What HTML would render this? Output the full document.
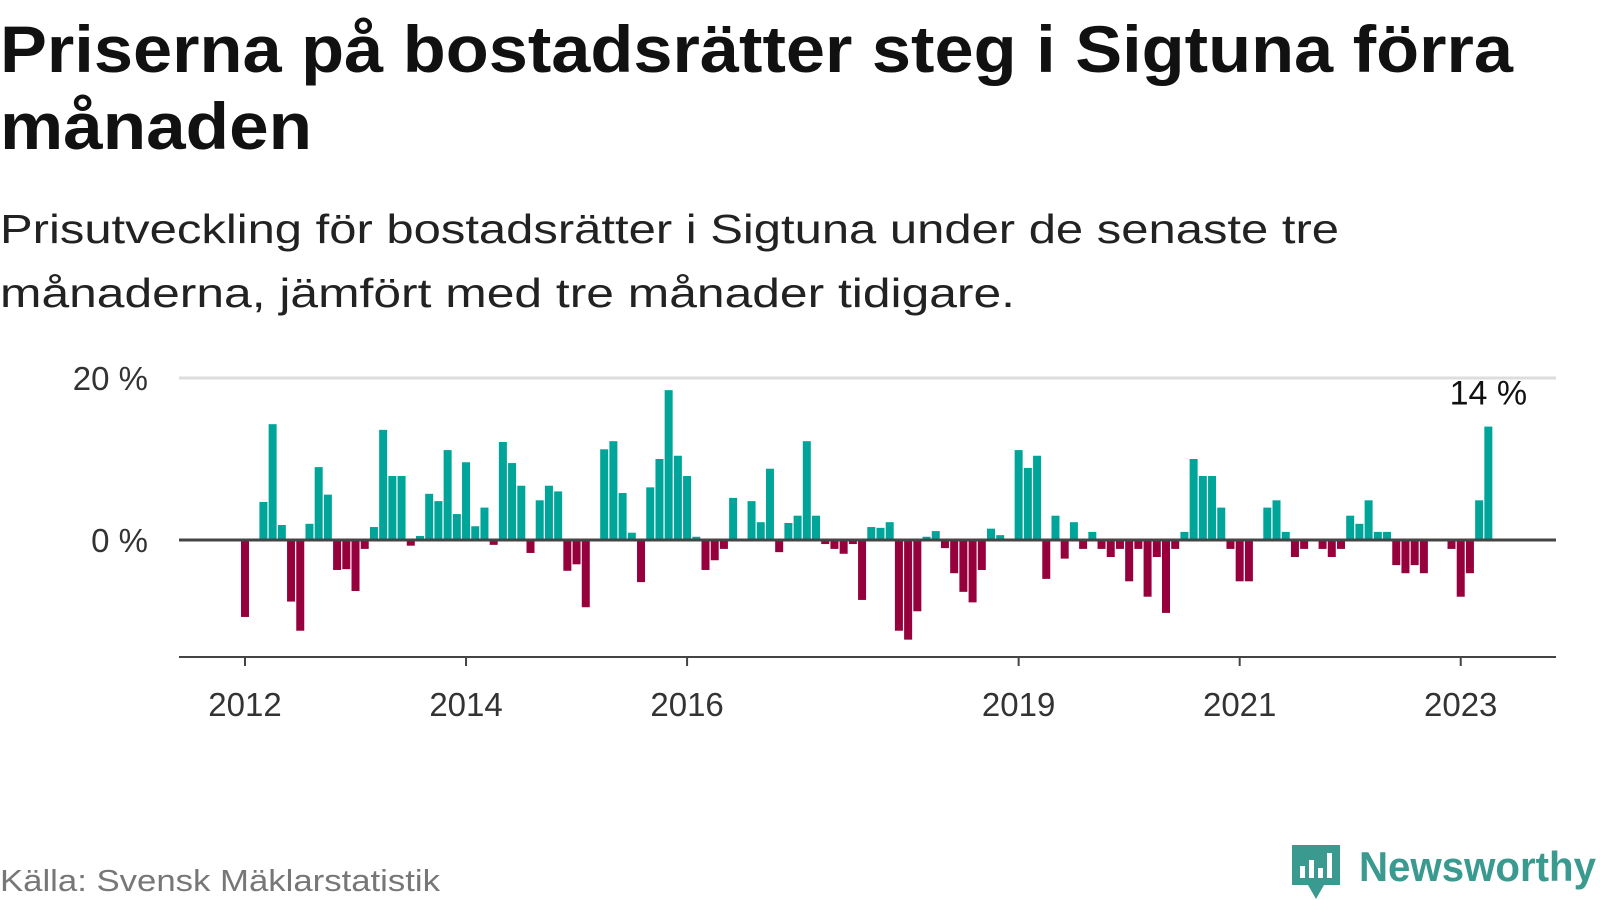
<!DOCTYPE html>
<html><head><meta charset="utf-8"><style>
html,body{margin:0;padding:0;background:#fff;}
svg{display:block;font-family:"Liberation Sans",sans-serif;}
</style></head><body>
<svg id="chart" width="1600" height="900" viewBox="0 0 1600 900">
<text x="0" y="72" font-size="66" font-weight="bold" fill="#111" textLength="1513" lengthAdjust="spacingAndGlyphs">Priserna på bostadsrätter steg i Sigtuna förra</text>
<text x="0" y="149" font-size="66" font-weight="bold" fill="#111" textLength="312" lengthAdjust="spacingAndGlyphs">månaden</text>
<text x="0" y="243" font-size="41" fill="#222" textLength="1339" lengthAdjust="spacingAndGlyphs">Prisutveckling för bostadsrätter i Sigtuna under de senaste tre</text>
<text x="0" y="307" font-size="41" fill="#222" textLength="1015" lengthAdjust="spacingAndGlyphs">månaderna, jämfört med tre månader tidigare.</text>
<g id="plot"></g>
<text x="0" y="891" font-size="31" fill="#777" textLength="440" lengthAdjust="spacingAndGlyphs">Källa: Svensk Mäklarstatistik</text>
<g>
<path d="M1292 845 h48 v40 h-16 l-8 14 l-8 -14 h-16 z" fill="#3a9a8f"/>
<rect x="1300" y="866" width="5" height="12" fill="#fff"/>
<rect x="1309" y="860" width="5" height="18" fill="#fff"/>
<rect x="1318" y="868" width="5" height="10" fill="#fff"/>
<rect x="1327" y="853" width="5" height="25" fill="#fff"/>
<text x="1359" y="881" font-size="42" font-weight="bold" fill="#3a9a8f" textLength="237" lengthAdjust="spacingAndGlyphs">Newsworthy</text>
</g>
</svg>
<script>
const values = [-9.5,0,4.7,14.3,1.85,-7.6,-11.2,2.0,9.0,5.6,-3.7,-3.6,-6.3,-1.1,1.6,13.6,7.9,7.9,-0.7,0.5,5.7,4.8,11.1,3.2,9.6,1.7,4.0,-0.6,12.1,9.5,6.7,-1.6,4.9,6.7,6.0,-3.8,-3.0,-8.3,0,11.2,12.2,5.8,0.9,-5.2,6.5,10.0,18.5,10.4,7.9,0.4,-3.7,-2.5,-1.1,5.2,0,4.8,2.2,8.8,-1.5,2.1,3.0,12.2,3.0,-0.5,-1.1,-1.7,-0.5,-7.4,1.6,1.5,2.2,-11.2,-12.3,-8.8,0.4,1.1,-1.0,-4.1,-6.4,-7.7,-3.7,1.4,0.6,0,11.1,8.9,10.4,-4.8,3.0,-2.3,2.2,-1.1,1.0,-1.1,-2.1,-1.1,-5.1,-1.1,-7.0,-2.1,-9.0,-1.1,1.0,10.0,7.9,7.9,4.0,-1.1,-5.1,-5.1,0,4.0,4.9,1.0,-2.1,-1.1,0,-1.1,-2.1,-1.1,3.0,2.0,4.9,1.0,1.0,-3.1,-4.1,-3.1,-4.1,0,0,-1.1,-7.0,-4.1,4.9,14.0];
const yTicks = [0, 20];
const yTickLabels = ["0 %", "20 %"];
const xTickIndex = [0, 24, 48, 84, 108, 132];
const xTickLabels = ["2012", "2014", "2016", "2019", "2021", "2023"];
const lastLabel = "14 %";

const NS = "http://www.w3.org/2000/svg";
const g = document.getElementById('plot');
const x = i => 245 + i * 9.21;
const y = v => 540 - v * 8.1;
function mk(tag, attrs){const e=document.createElementNS(NS,tag);for(const k in attrs)e.setAttribute(k,attrs[k]);g.appendChild(e);return e;}

yTicks.forEach((t,k)=>{
  if(t!==0){
    const l=mk('line',{x1:179,x2:1556,y1:y(t),y2:y(t),stroke:'#ddd','stroke-width':3});
    
    
  }
  const tx=mk('text',{x:148,y:y(t)+12,'font-size':33,'text-anchor':'end',fill:'#333'});
  tx.textContent=yTickLabels[k];
  
  
});

values.forEach((v,i)=>{
  if(v===0)return;
  const top=Math.min(y(v),y(0)), h=Math.abs(y(v)-y(0));
  const r=mk('rect',{x:x(i)-4,y:top,width:8,height:h,fill:v>0?'#00a59a':'#96003c'});
  
  
});

const z=mk('line',{x1:179,x2:1556,y1:y(0),y2:y(0),stroke:'#444','stroke-width':3});



const ax=mk('line',{x1:179,x2:1556,y1:657,y2:657,stroke:'#444','stroke-width':2});



xTickIndex.forEach((idx,k)=>{
  const t=mk('line',{x1:x(idx),x2:x(idx),y1:657,y2:666,stroke:'#444','stroke-width':2});
  
  
  const tx=mk('text',{x:x(idx),y:716,'font-size':33,'text-anchor':'middle',fill:'#333'});
  tx.textContent=xTickLabels[k];
  
  
});

const li=values.length-1;
const lab=mk('text',{x:x(li),y:y(values[li])-22,'font-size':34,'text-anchor':'middle',fill:'#111'});
lab.textContent=lastLabel;


</script>
</body></html>
